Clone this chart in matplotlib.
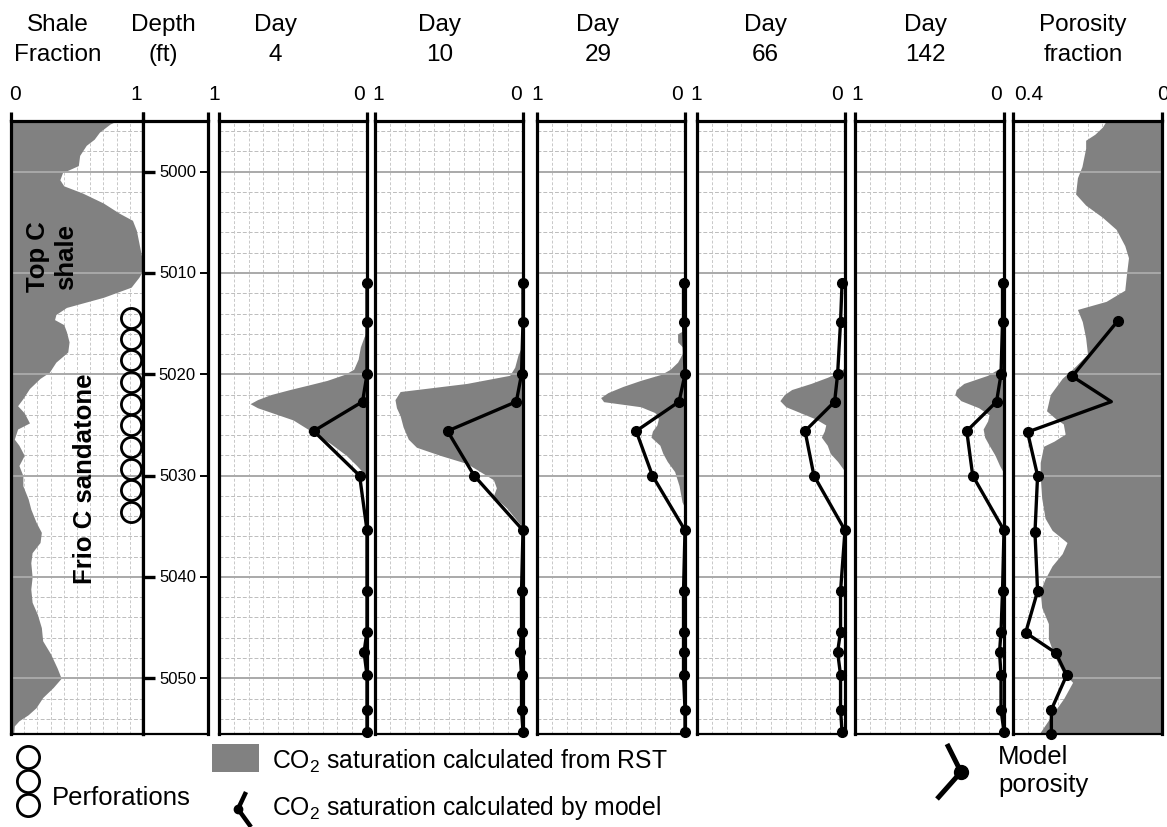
import numpy as np
import matplotlib.pyplot as plt

plt.rcParams['font.family'] = ['Liberation Sans', 'DejaVu Sans']
plt.rcParams['mathtext.fontset'] = 'custom'
plt.rcParams['mathtext.rm'] = 'Liberation Sans'

depth_ticks = [5000, 5010, 5020, 5030, 5040, 5050]

shale_depth = [4995.0, 4995.3, 4996.1, 4996.8, 4997.4, 4998.4, 4999.4, 5000.1, 5000.8, 5001.4,
               5002.1, 5003.1, 5004.1, 5004.8, 5005.8, 5007.1, 5008.4, 5009.7, 5010.4, 5011.4,
               5012.4, 5013.4, 5014.1, 5014.6, 5015.1, 5015.8, 5016.8, 5017.8, 5018.8, 5019.8,
               5020.4, 5021.4, 5022.4, 5023.1, 5023.8, 5024.8, 5025.4, 5026.4, 5027.0, 5028.0,
               5029.0, 5030.0, 5031.0, 5032.3, 5033.3, 5034.6, 5035.6, 5036.6, 5037.6, 5038.6,
               5040.0, 5041.2, 5042.5, 5043.7, 5045.0, 5046.3, 5047.6, 5049.0, 5050.0, 5050.9,
               5051.9, 5052.9, 5053.6, 5054.2, 5054.7, 5055.5]
shale_frac = [0.80, 0.75, 0.67, 0.63, 0.57, 0.52, 0.51, 0.39, 0.37, 0.40,
              0.54, 0.70, 0.82, 0.92, 0.95, 0.97, 0.99, 1.00, 0.97, 0.91,
              0.70, 0.42, 0.34, 0.33, 0.40, 0.42, 0.44, 0.43, 0.34, 0.29,
              0.22, 0.14, 0.09, 0.05, 0.10, 0.14, 0.05, 0.025, 0.06, 0.10,
              0.06, 0.09, 0.09, 0.13, 0.15, 0.19, 0.23, 0.22, 0.16, 0.15,
              0.16, 0.15, 0.16, 0.20, 0.23, 0.24, 0.30, 0.35, 0.38, 0.32,
              0.24, 0.19, 0.13, 0.06, 0.025, 0.02]

perf_depth = [5014.4, 5016.5, 5018.6, 5020.8, 5022.9, 5025.0, 5027.2, 5029.3, 5031.4, 5033.6]

day_labels = ['4', '10', '29', '66', '142']

# CO2 saturation from RST
d4_rst_depth = [5015.8, 5016.3, 5017.3, 5018.5, 5019.5, 5020.0, 5020.6, 5021.0, 5021.5, 5022.0,
                5022.5, 5022.9, 5023.3, 5024.0, 5024.5, 5025.5, 5026.8, 5028.0, 5029.0, 5029.8, 5030.2]
d4_rst = [0.0, 0.02, 0.045, 0.06, 0.09, 0.15, 0.27, 0.38, 0.52, 0.65,
          0.74, 0.79, 0.74, 0.60, 0.50, 0.39, 0.25, 0.14, 0.07, 0.02, 0.0]

d10_rst_depth = [5016.5, 5017.3, 5018.1, 5019.3, 5020.1, 5020.9, 5021.7, 5022.5, 5023.3, 5024.1,
                 5025.2, 5026.4, 5027.2, 5028.0, 5028.8, 5029.6, 5030.4, 5031.2, 5032.0, 5033.2,
                 5034.8, 5035.4]
d10_rst = [0.0, 0.01, 0.034, 0.056, 0.09, 0.38, 0.83, 0.865, 0.855, 0.83,
           0.81, 0.775, 0.72, 0.56, 0.38, 0.29, 0.20, 0.18, 0.20, 0.11,
           0.02, 0.0]

d29_rst_depth = [5015.6, 5016.0, 5016.8, 5017.4, 5018.0, 5018.8, 5019.5, 5020.0, 5020.6, 5021.2,
                 5021.8, 5022.3, 5022.7, 5023.2, 5023.8, 5024.4, 5025.0, 5025.6, 5026.2, 5027.0,
                 5027.8, 5028.6, 5029.6, 5031.0, 5032.6, 5033.2]
d29_rst = [0.0, 0.05, 0.05, 0.01, 0.02, 0.05, 0.10, 0.16, 0.30, 0.42,
           0.52, 0.57, 0.55, 0.30, 0.20, 0.18, 0.19, 0.22, 0.23, 0.17,
           0.15, 0.12, 0.07, 0.04, 0.02, 0.0]

d66_rst_depth = [5019.3, 5019.8, 5020.3, 5020.9, 5021.5, 5022.0, 5022.6, 5023.2, 5023.8, 5024.4,
                 5025.0, 5025.6, 5026.2, 5027.0, 5027.8, 5028.6, 5029.2, 5029.6]
d66_rst = [0.0, 0.04, 0.12, 0.23, 0.36, 0.41, 0.44, 0.40, 0.30, 0.20,
           0.13, 0.14, 0.16, 0.12, 0.10, 0.05, 0.02, 0.0]

d142_rst_depth = [5018.8, 5019.4, 5020.1, 5020.9, 5021.5, 5022.0, 5022.6, 5023.3, 5024.0, 5024.6,
                  5025.4, 5026.2, 5027.0, 5028.0, 5029.0, 5029.8]
d142_rst = [0.0, 0.03, 0.11, 0.27, 0.32, 0.33, 0.29, 0.17, 0.10, 0.11,
            0.14, 0.13, 0.10, 0.06, 0.03, 0.0]

# CO2 saturation by model
model_depth = [5011.0, 5014.8, 5020.0, 5022.7, 5025.6, 5030.0, 5035.4, 5041.4, 5045.4, 5047.4,
               5049.7, 5053.1, 5055.3]
d4_model = [0.0, 0.0, 0.0, 0.03, 0.36, 0.05, 0.0, 0.0, 0.0, 0.02, 0.0, 0.0, 0.0]
d10_model = [0.0, 0.0, 0.01, 0.045, 0.51, 0.33, 0.0, 0.01, 0.01, 0.02, 0.01, 0.01, 0.0]
d29_model = [0.01, 0.01, 0.0, 0.04, 0.33, 0.22, 0.0, 0.01, 0.01, 0.01, 0.01, 0.0, 0.0]
d66_model = [0.02, 0.03, 0.05, 0.07, 0.27, 0.21, 0.0, 0.03, 0.03, 0.05, 0.03, 0.03, 0.02]
d142_model = [0.01, 0.01, 0.02, 0.05, 0.25, 0.21, 0.0, 0.01, 0.02, 0.03, 0.02, 0.02, 0.0]

# porosity log and model porosity
poro_depth = [4995.0, 4995.6, 4996.3, 4996.9, 4997.7, 4998.6, 4999.5, 5000.6, 5002.2, 5003.3,
              5004.5, 5005.7, 5007.3, 5008.5, 5010.0, 5011.7, 5012.8, 5013.6, 5014.8, 5016.4,
              5018.0, 5019.2, 5020.4, 5022.0, 5023.6, 5024.4, 5024.9, 5025.9, 5026.6, 5027.1,
              5028.7, 5030.0, 5032.2, 5034.2, 5035.4, 5036.6, 5037.7, 5038.9, 5040.2, 5041.4,
              5043.0, 5044.6, 5046.1, 5047.7, 5049.3, 5050.4, 5052.0, 5053.6, 5055.5]
poro_frac = [0.15, 0.16, 0.18, 0.205, 0.205, 0.21, 0.215, 0.227, 0.232, 0.205,
             0.16, 0.123, 0.10, 0.09, 0.095, 0.10, 0.15, 0.227, 0.214, 0.205,
             0.20, 0.232, 0.268, 0.30, 0.31, 0.285, 0.265, 0.26, 0.29, 0.318,
             0.327, 0.327, 0.323, 0.314, 0.295, 0.255, 0.268, 0.295, 0.314, 0.327,
             0.323, 0.305, 0.305, 0.29, 0.268, 0.24, 0.264, 0.295, 0.33]

poro_model_depth = [5014.7, 5020.2, 5022.7, 5025.7, 5030.0, 5035.6, 5041.4, 5045.5, 5047.5,
                    5049.7, 5053.1, 5055.5]
poro_model = [0.118, 0.241, 0.136, 0.361, 0.334, 0.341, 0.334, 0.366, 0.285, 0.256, 0.297, 0.297]

# ---------------- layout (pixels) ----------------
W, H = 1167, 828
TOP, BOT = 122, 735
DMIN, DMAX = 4995.0, 5055.5
GRAY = '#818181'

shale_x = (11, 143)
depth_x = (143, 208)
day_x = [(219, 367), (375, 523), (537, 685), (697, 845), (855, 1004)]
poro_x = (1013, 1162)

fig = plt.figure(figsize=(W / 100, H / 100), dpi=100)


def make_ax(x0, x1):
    ax = fig.add_axes([x0 / W, 1 - BOT / H, (x1 - x0) / W, (BOT - TOP) / H])
    ax.set_ylim(DMAX, DMIN)
    ax.set_xticks([])
    ax.set_yticks([])
    for s in ('left', 'right', 'top'):
        ax.spines[s].set_linewidth(2.3)
    ax.spines['bottom'].set_linewidth(1.6)
    for xx in (0, 1):
        ax.plot([xx, xx], [1, 1.014], transform=ax.transAxes, color='k', lw=2.3,
                clip_on=False, solid_capstyle='butt')
    return ax


def log_grid(ax, lo, hi):
    for d in np.arange(4996, 5056, 2):
        if d % 10:
            ax.axhline(d, color='#bcbcbc', lw=0.7, ls=(0, (4, 2)), zorder=0)
    for v in np.linspace(lo, hi, 11)[1:-1]:
        ax.axvline(v, color='#c8c8c8', lw=0.7, ls=(0, (3, 2)), zorder=0)
    for d in depth_ticks:
        ax.axhline(d, color='#a9a9a9', lw=1.4, zorder=2)


# shale fraction track
ax_sh = make_ax(*shale_x)
ax_sh.set_xlim(0, 1)
log_grid(ax_sh, 0, 1)
ax_sh.fill_betweenx(shale_depth, 0, shale_frac, color=GRAY, lw=0, zorder=1)
ax_sh.plot(np.full(len(perf_depth), 0.91), perf_depth, 'o', ms=14.5, mfc='none', mec='k',
           mew=2.0, clip_on=False, zorder=6)
ax_sh.text(0.31, 5008.3, 'Top C\nshale', rotation=90, ha='center', va='center',
           fontsize=18.5, fontweight='bold', linespacing=1.2, zorder=7)
ax_sh.text(0.56, 5030.2, 'Frio C sandatone', rotation=90, ha='center', va='center',
           fontsize=18.5, fontweight='bold', zorder=7)

# depth track
ax_d = make_ax(*depth_x)
ax_d.set_xlim(0, 1)
tr = ax_d.get_yaxis_transform()
for d in depth_ticks:
    ax_d.plot([0, 0.19], [d, d], transform=tr, color='k', lw=2.4, solid_capstyle='butt')
    ax_d.plot([0.88, 1.0], [d, d], transform=tr, color='k', lw=1.4, solid_capstyle='butt')
    ax_d.text(0.53, d, str(d), transform=tr, ha='center', va='center', fontsize=12)

# CO2 saturation tracks
rst_depths = [d4_rst_depth, d10_rst_depth, d29_rst_depth, d66_rst_depth, d142_rst_depth]
rst_vals = [d4_rst, d10_rst, d29_rst, d66_rst, d142_rst]
model_vals = [d4_model, d10_model, d29_model, d66_model, d142_model]
for (x0, x1), rd, rv, mv in zip(day_x, rst_depths, rst_vals, model_vals):
    ax = make_ax(x0, x1)
    ax.set_xlim(1, 0)
    log_grid(ax, 0, 1)
    ax.fill_betweenx(rd, rv, 0, color=GRAY, lw=0, zorder=1)
    ax.plot(mv, model_depth, '-o', color='k', lw=2.4, ms=7, clip_on=False, zorder=5)

# porosity track
ax_p = make_ax(*poro_x)
ax_p.set_xlim(0.4, 0)
log_grid(ax_p, 0, 0.4)
ax_p.fill_betweenx(poro_depth, poro_frac, 0, color=GRAY, lw=0, zorder=1)
ax_p.plot(poro_model, poro_model_depth, '-o', color='k', lw=2.4, ms=7, clip_on=False,
          zorder=5, markevery=[0, 1, 3, 4, 5, 6, 7, 8, 9, 10, 11])

# ---------------- headers, scales and legend ----------------
ov = fig.add_axes([0, 0, 1, 1], zorder=10)
ov.set_xlim(0, W)
ov.set_ylim(H, 0)
ov.axis('off')

hdr_x = [58, 163, 275, 440, 598, 765, 925, 1083]
hdr_1 = ['Shale', 'Depth'] + ['Day'] * 5 + ['Porosity']
hdr_2 = ['Fraction', '(ft)'] + day_labels + ['fraction']
for x, a, b in zip(hdr_x, hdr_1, hdr_2):
    ov.text(x, 31, a, ha='center', va='baseline', fontsize=17.5)
    ov.text(x, 61, b, ha='center', va='baseline', fontsize=17.5)

one_x = [214, 378, 537, 696, 857]
zero_x = [359, 516, 677, 837, 996]
scale_lbl = [('0', 15), ('1', 136)]
scale_lbl += [('1', x) for x in one_x] + [('0', x) for x in zero_x]
scale_lbl += [('0.4', 1029), ('0', 1163)]
for s, x in scale_lbl:
    ov.text(x, 100, s, ha='center', va='baseline', fontsize=15)

# legend
ov.plot([28, 28, 28], [758, 782, 806], 'o', ms=16, mfc='none', mec='k', mew=2.0)
ov.text(52, 805, 'Perforations', ha='left', va='baseline', fontsize=18.5)
ov.add_patch(plt.Rectangle((212, 745), 47, 28, color=GRAY, lw=0))
ov.text(272, 769, r'CO$_\mathregular{2}$ saturation calculated from RST', ha='left',
        va='baseline', fontsize=17.8)
ov.plot([246, 238, 251], [793, 810, 828], color='k', lw=3.2, solid_capstyle='butt')
ov.plot([238], [810], 'o', color='k', ms=6)
ov.text(272, 815, r'CO$_\mathregular{2}$ saturation calculated by model', ha='left',
        va='baseline', fontsize=17.8)
ov.plot([947, 961, 937], [745, 773, 800], color='k', lw=3.6, solid_capstyle='butt')
ov.plot([961], [773], 'o', color='k', ms=10)
ov.text(998, 764, 'Model', ha='left', va='baseline', fontsize=18.5)
ov.text(998, 792, 'porosity', ha='left', va='baseline', fontsize=18.5)

fig.savefig('out.png', dpi=100)
